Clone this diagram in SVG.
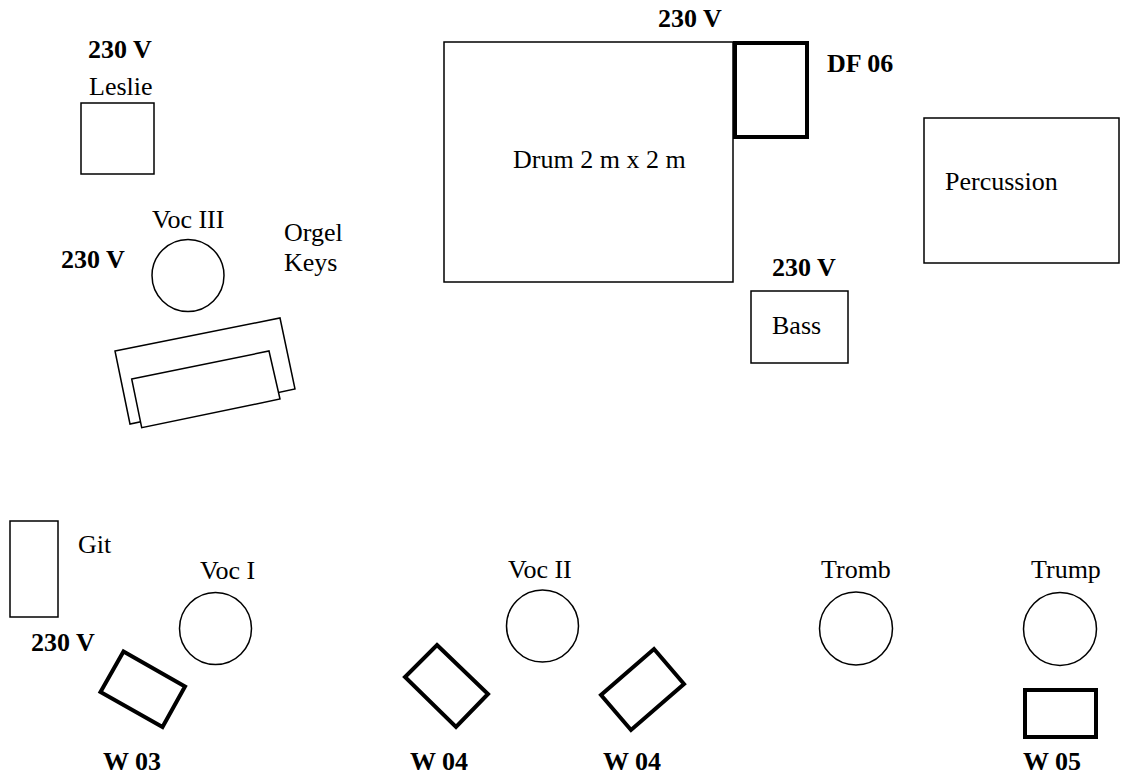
<svg xmlns="http://www.w3.org/2000/svg" width="1121" height="776" viewBox="0 0 1121 776">
<style>
text{font-family:"Liberation Serif","Times New Roman",serif;font-size:26px;fill:#000}
.b{font-weight:bold}
.t{fill:#fff;stroke:#000;stroke-width:1.5}
.k{fill:#fff;stroke:#000;stroke-width:4}
</style>
<rect width="1121" height="776" fill="#fff"/>
<g id="leslie">
<text class="b" x="88" y="58">230 V</text>
<text x="89" y="95">Leslie</text>
<rect class="t" x="81" y="103" width="73" height="71"/>
</g>
<g id="voc3">
<text x="152" y="228">Voc III</text>
<circle class="t" cx="188" cy="275.5" r="36"/>
<text class="b" x="61" y="268">230 V</text>
</g>
<g id="orgel">
<text x="284" y="241">Orgel</text>
<text x="284" y="271">Keys</text>
<polygon class="t" points="115,351 280,318 295,389 130,424"/>
<polygon class="t" points="131.7,379 269,351 280,399 141.7,427.7"/>
</g>
<g id="drum">
<text class="b" x="658" y="27">230 V</text>
<rect class="t" x="444" y="42" width="289" height="240"/>
<text x="513" y="168">Drum 2 m x 2 m</text>
</g>
<g id="df06">
<rect class="k" x="735" y="43" width="72" height="94"/>
<text class="b" x="827" y="72">DF 06</text>
</g>
<g id="percussion">
<rect class="t" x="924" y="118" width="195" height="145"/>
<text x="945" y="190">Percussion</text>
</g>
<g id="bass">
<text class="b" x="772" y="276">230 V</text>
<rect class="t" x="751" y="291" width="97" height="72"/>
<text x="772" y="334">Bass</text>
</g>
<g id="git">
<rect class="t" x="10" y="521" width="48" height="96"/>
<text x="78" y="553">Git</text>
<text class="b" x="31" y="651">230 V</text>
</g>
<g id="voc1">
<text x="200" y="579">Voc I</text>
<circle class="t" cx="215.5" cy="628.5" r="36"/>
</g>
<g id="w03">
<polygon class="k" points="123.5,651.5 185,686.5 162.5,727 100.5,692"/>
<text class="b" x="103" y="770">W 03</text>
</g>
<g id="voc2">
<text x="508" y="578">Voc II</text>
<circle class="t" cx="542.5" cy="626" r="36"/>
</g>
<g id="w04a">
<polygon class="k" points="437,645 488,694 456,727 405,677"/>
<text class="b" x="410" y="770">W 04</text>
</g>
<g id="w04b">
<polygon class="k" points="654,649 684,684 631,730 601,695"/>
<text class="b" x="603" y="770">W 04</text>
</g>
<g id="tromb">
<text x="821" y="578">Tromb</text>
<circle class="t" cx="856" cy="628.5" r="36.5"/>
</g>
<g id="trump">
<text x="1031" y="578">Trump</text>
<circle class="t" cx="1060" cy="629" r="36.5"/>
</g>
<g id="w05">
<rect class="k" x="1025" y="690" width="71" height="47"/>
<text class="b" x="1023" y="770">W 05</text>
</g>
<g id="connectors"></g>
</svg>
